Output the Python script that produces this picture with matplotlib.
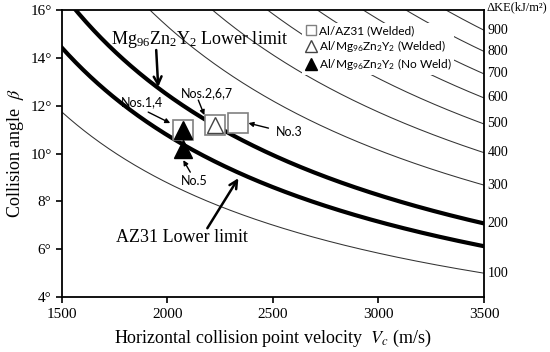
import numpy as np
import matplotlib
matplotlib.use("Agg")
import matplotlib.pyplot as plt
from matplotlib.lines import Line2D

# ---- data ----
K_COEF = 1.075e-3                      # ΔKE = K*(Vc*sin β)^2  (kJ/m^2)
thin_levels = [100, 300, 400, 500, 600, 700, 800, 900]
thick_levels = [150, 200]              # AZ31 / Mg96Zn2Y2 lower limits
right_labels = [100, 200, 300, 400, 500, 600, 700, 800, 900]

sq_vc = [2075, 2227, 2336]             # Al/AZ31 (Welded)
sq_beta = [11.0, 11.19, 11.27]
otri_vc = [2227]                       # Al/Mg96Zn2Y2 (Welded)
otri_beta = [11.19]
ftri_vc = [2075, 2075]                 # Al/Mg96Zn2Y2 (No Weld)
ftri_beta = [11.0, 10.2]

xticks = [1500, 2000, 2500, 3000, 3500]
yticks = [4, 6, 8, 10, 12, 14, 16]

plt.rcParams['mathtext.fontset'] = 'stix'
SERIF = 'Liberation Serif'
SANS = 'Lato'

fig = plt.figure(figsize=(5.5, 3.52), dpi=100)
ax = fig.add_axes([0.1127, 0.156, 0.7673, 0.8156])

vc = np.linspace(1500, 3500, 400)

def beta_of(level):
    return np.degrees(np.arcsin(np.sqrt(level / K_COEF) / vc))

for lv in thin_levels:
    ax.plot(vc, beta_of(lv), color='#333333', lw=0.75, zorder=1)
for lv in thick_levels:
    ax.plot(vc, beta_of(lv), color='black', lw=3.0, zorder=2)

ax.set_xlim(1500, 3500)
ax.set_ylim(4, 16)
ax.set_xticks(xticks)
ax.set_xticklabels([str(t) for t in xticks], fontfamily=SERIF, fontsize=11)
ax.set_yticks(yticks)
ax.set_yticklabels([f"{t}°" for t in yticks], fontfamily=SERIF, fontsize=11)
ax.tick_params(direction='out', length=4, width=1.2, colors='black')
for s in ax.spines.values():
    s.set_linewidth(1.3)

# right side ΔKE labels
for lv in right_labels:
    b = np.degrees(np.arcsin(np.sqrt(lv / K_COEF) / 3500))
    ax.text(1.008, b, str(lv), transform=ax.get_yaxis_transform(),
            fontfamily=SERIF, fontsize=10, va='center', ha='left')
ax.text(1.005, 16.1, "ΔKE(kJ/m²)", transform=ax.get_yaxis_transform(),
        fontfamily=SERIF, fontsize=9, va='center', ha='left')

ax.set_xlabel("Horizontal collision point velocity  $V_c$ (m/s)",
              fontfamily=SERIF, fontsize=13, labelpad=5)
ax.set_ylabel(r"Collision angle  $\beta$", fontfamily=SERIF, fontsize=13, labelpad=3)

# markers
ax.plot(sq_vc, sq_beta, 's', ms=14, mfc='white', mec='#808080', mew=1.2, zorder=4)
ax.plot(otri_vc, otri_beta, '^', ms=11, mfc='none', mec='#444444', mew=1.0, zorder=5)
ax.plot(ftri_vc, ftri_beta, '^', ms=13, mfc='black', mec='black', zorder=5)

# legend
handles = [
    Line2D([], [], ls='none', marker='s', ms=7, mfc='white', mec='#808080', mew=1.0),
    Line2D([], [], ls='none', marker='^', ms=8, mfc='white', mec='#444444', mew=1.0),
    Line2D([], [], ls='none', marker='^', ms=8, mfc='black', mec='black'),
]
labels = ["Al/AZ31 (Welded)",
          r"Al/Mg$\mathregular{_{96}}$Zn$\mathregular{_2}$Y$\mathregular{_2}$ (Welded)",
          r"Al/Mg$\mathregular{_{96}}$Zn$\mathregular{_2}$Y$\mathregular{_2}$ (No Weld)"]
leg = ax.legend(handles, labels, loc='upper left', bbox_to_anchor=(0.555, 0.975),
                frameon=True, fancybox=False, edgecolor='none', framealpha=1,
                prop={'family': SANS, 'size': 8.6}, handletextpad=0.2,
                labelspacing=0.15, borderpad=0.2, handlelength=1.0)

def px2data(x, y):
    return (1500 + (x - 62) * 2000 / 421, 16 - (y - 10) / 23.9)

# big labels
ax.text(*px2data(199, 39), r"Mg$\mathregular{_{96}}$Zn$\mathregular{_2}$Y$\mathregular{_2}$ Lower limit",
        fontfamily=SERIF, fontsize=13, ha='center', va='center', zorder=6)
ax.annotate("", xy=px2data(158, 87), xytext=px2data(156, 50),
            arrowprops=dict(arrowstyle='->', lw=1.8, color='black',
                            mutation_scale=14, shrinkA=0, shrinkB=0))
ax.text(*px2data(182, 237), "AZ31 Lower limit",
        fontfamily=SERIF, fontsize=13, ha='center', va='center', zorder=6)
ax.annotate("", xy=px2data(238, 178), xytext=px2data(207, 228),
            arrowprops=dict(arrowstyle='->', lw=1.8, color='black',
                            mutation_scale=14, shrinkA=0, shrinkB=0))

# small labels
small = [("Nos.1,4", (142, 102), (148, 112), (170, 123)),
         ("Nos.2,6,7", (207, 93), (198, 100), (204, 115)),
         ("No.3", (289, 132), (268, 128), (248, 123)),
         ("No.5", (194, 181), (190, 172), (183, 160))]
for txt, tpos, tail, head in small:
    ax.text(*px2data(*tpos), txt, fontfamily=SANS, fontsize=9,
            ha='center', va='center', zorder=6)
    ax.annotate("", xy=px2data(*head), xytext=px2data(*tail),
                arrowprops=dict(arrowstyle='-|>', lw=1.0, color='black',
                                mutation_scale=7, shrinkA=0, shrinkB=0))

fig.savefig("out.png", dpi=100)
